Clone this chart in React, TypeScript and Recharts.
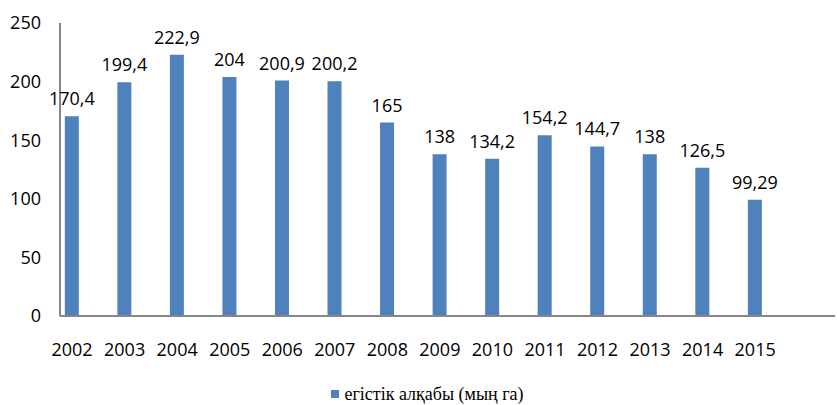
import { BarChart, Bar, XAxis, YAxis, LabelList, Legend } from "recharts";

const years = [2002, 2003, 2004, 2005, 2006, 2007, 2008, 2009, 2010, 2011, 2012, 2013, 2014, 2015];
const arable = [170.4, 199.4, 222.9, 204, 200.9, 200.2, 165, 138, 134.2, 154.2, 144.7, 138, 126.5, 99.29];
const yTicks = [0, 50, 100, 150, 200, 250];
const seriesName = "егістік алқабы (мың га)";

const data = years.map((year, i) => ({ year, value: arable[i] }));

const BLUE = "#4F81BD";
const AXIS = "#868686";
const FONT = "'Open Sans', 'Liberation Sans', sans-serif";

function LegendContent() {
  return (
    <div style={{ position: "relative", top: 2, display: "flex", justifyContent: "center", alignItems: "center", height: 22 }}>
      <span style={{ width: 8, height: 8, background: BLUE, marginRight: 5, marginLeft: 20 }} />
      <span style={{ fontFamily: "'Liberation Serif', serif", fontSize: 18, lineHeight: "22px", color: "#000" }}>{seriesName}</span>
    </div>
  );
}

export default function App() {
  return (
    <div style={{ position: "absolute", left: 0, top: 0, width: 837, height: 405, background: "#fff" }}>
      <BarChart
        width={837}
        height={405}
        data={data}
        margin={{ top: 23, right: 2, bottom: 0, left: 0 }}
      >
        <XAxis
          dataKey="year"
          type="number"
          domain={[2001.77, 2016.52]}
          ticks={years}
          interval={0}
          height={65}
          tickLine={false}
          tickMargin={21}
          axisLine={{ stroke: AXIS, strokeWidth: 2 }}
          tick={{ fill: "#000", fontSize: 18, fontFamily: FONT }}
        />
        <YAxis
          domain={[0, 250]}
          ticks={yTicks}
          width={60}
          tickLine={false}
          tickMargin={13}
          axisLine={{ stroke: AXIS, strokeWidth: 2 }}
          tick={{ fill: "#000", fontSize: 18, fontFamily: FONT }}
        />
        <Legend verticalAlign="bottom" height={24} content={<LegendContent />} />
        <Bar dataKey="value" name={seriesName} fill={BLUE} barSize={14} isAnimationActive={false}>
          <LabelList
            dataKey="value"
            position="top"
            offset={11}
            formatter={(v: number) => String(v).replace(".", ",")}
            style={{ fill: "#000", fontSize: 18, fontFamily: FONT }}
          />
        </Bar>
      </BarChart>
    </div>
  );
}
